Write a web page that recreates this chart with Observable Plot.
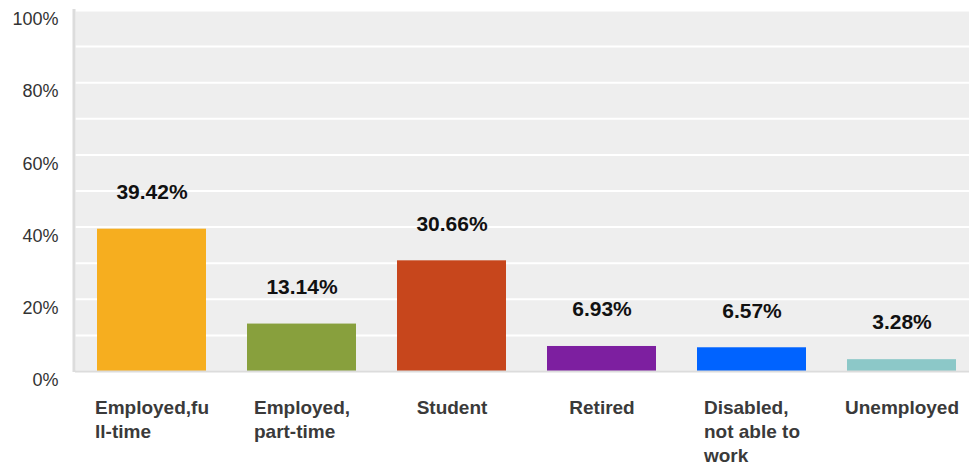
<!DOCTYPE html>
<html>
<head>
<meta charset="utf-8">
<script src="https://cdn.jsdelivr.net/npm/d3@7"></script>
<script src="https://cdn.jsdelivr.net/npm/@observablehq/plot@0.6"></script>
<style>
  html, body { margin: 0; padding: 0; background: #fff; }
  svg { display: block; }
</style>
</head>
<body>
<div id="chart"></div>
<script>
const categories = ["Employed,full-time", "Employed, part-time", "Student", "Retired", "Disabled, not able to work", "Unemployed"];
const labelLines = ["Employed,fu\nll-time", "Employed,\npart-time", "Student", "Retired", "Disabled,\nnot able to\nwork", "Unemployed"];
const values = [39.42, 13.14, 30.66, 6.93, 6.57, 3.28];
const colors = ["#f6ae1f", "#88a03d", "#c7461c", "#7d1fa0", "#0063ff", "#8cc8c8"];
const yTicks = [0, 20, 40, 60, 80, 100];
const gridTicks = [0, 10, 20, 30, 40, 50, 60, 70, 80, 90, 100];

const data = categories.map((c, i) => ({category: c, value: values[i], color: colors[i], label: labelLines[i]}));

const font = "Liberation Sans, Arial, Helvetica, sans-serif";
const ctx = document.createElement("canvas").getContext("2d");
ctx.font = `bold 19px ${font}`;
const labelMarks = data.map(d => {
  const w = Math.max(...d.label.split("\n").map(l => ctx.measureText(l).width));
  return Plot.text([d], {
    x: "category", text: "label", frameAnchor: "bottom",
    textAnchor: "start", lineAnchor: "top", lineHeight: 1.28,
    dx: -w / 2, dy: 25, fontSize: 19, fontWeight: "bold", fill: "#3a3a3a"
  });
});

const plot = Plot.plot({
  width: 969,
  height: 468,
  marginLeft: 75,
  marginRight: 0,
  marginTop: 10,
  marginBottom: 97,
  style: {fontFamily: font, background: "#fff"},
  x: {domain: categories, range: [74, 979], paddingInner: 0.276, paddingOuter: 0.14, axis: null},
  y: {domain: [0, 100], axis: null},
  marks: [
    Plot.frame({fill: "#eeeeee", stroke: null}),
    Plot.gridY(gridTicks, {stroke: "#ffffff", strokeOpacity: 1, strokeWidth: 2}),
    Plot.barY(data, {x: "category", y: "value", fill: "color"}),
    Plot.ruleY([0], {stroke: "#dcdcdc", strokeWidth: 2}),
    Plot.axisY(yTicks, {tickSize: 0, tickPadding: 17, dy: 9, fontSize: 18, fill: "#333", tickFormat: d => d + "%", label: null}),
    Plot.text(data, {x: "category", y: "value", text: d => d.value.toFixed(2) + "%", dy: -37, fontSize: 21, fontWeight: "bold", fill: "#111"}),
    ...labelMarks
  ]
});

// left border of plot area
const y = plot.scale("y");
d3.select(plot).append("line")
  .attr("x1", 74).attr("x2", 74)
  .attr("y1", y.apply(100) - 1).attr("y2", y.apply(0) + 1)
  .attr("stroke", "#dcdcdc").attr("stroke-width", 3);

document.getElementById("chart").appendChild(plot);
</script>
</body>
</html>
